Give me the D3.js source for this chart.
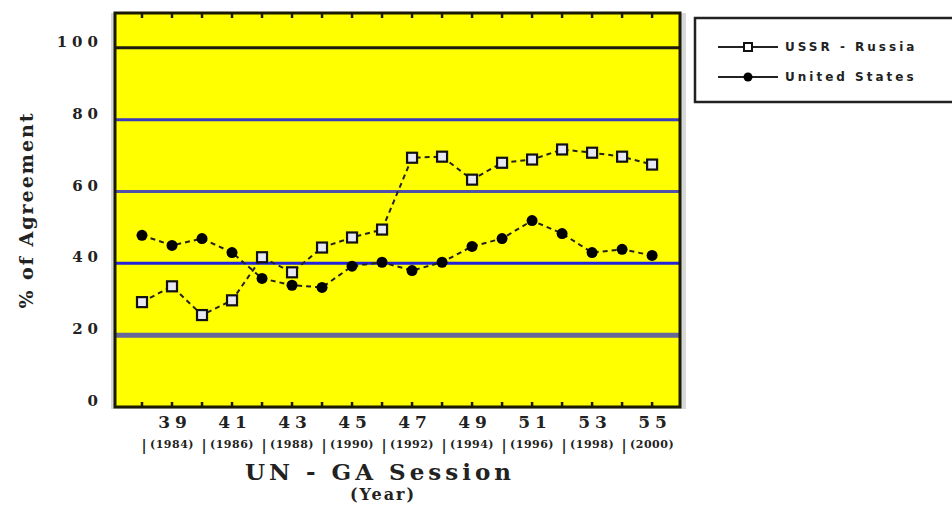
<!DOCTYPE html>
<html>
<head>
<meta charset="utf-8">
<script src="https://cdn.jsdelivr.net/npm/d3@7"></script>
<style>
  body { margin: 0; background: #fff; }
  svg text { font-family: "DejaVu Serif", serif; font-weight: bold; fill: #222; }
</style>
</head>
<body>
<div id="chart"></div>
<script>
// UN General Assembly sessions and agreement values
const sessions = [38, 39, 40, 41, 42, 43, 44, 45, 46, 47, 48, 49, 50, 51, 52, 53, 54, 55];
const ussrRussia = [29.2, 33.6, 25.6, 29.7, 41.7, 37.5, 44.4, 47.2, 49.4, 69.4, 69.7, 63.3, 68.0, 68.9, 71.7, 70.8, 69.7, 67.5];
const unitedStates = [47.8, 45.0, 46.9, 43.0, 35.8, 33.9, 33.3, 39.2, 40.3, 38.0, 40.3, 44.7, 46.9, 51.9, 48.3, 43.0, 43.9, 42.2];

const xTickSessions = [39, 41, 43, 45, 47, 49, 51, 53, 55];
const yearLabels = ["(1984)", "(1986)", "(1988)", "(1990)", "(1992)", "(1994)", "(1996)", "(1998)", "(2000)"];
const separatorSessions = [38, 40, 42, 44, 46, 48, 50, 52, 54];
const yTicks = [0, 20, 40, 60, 80, 100];
const seriesNames = ["USSR - Russia", "United States"];

const width = 952, height = 506;
const margin = {top: 13, right: 272, bottom: 99, left: 115};
const innerW = width - margin.left - margin.right;
const innerH = height - margin.top - margin.bottom;

const svg = d3.select("#chart").append("svg")
    .attr("width", width)
    .attr("height", height);

// faint shadow around the plot frame
svg.append("rect")
    .attr("x", margin.left - 4).attr("y", margin.top)
    .attr("width", innerW + 10).attr("height", innerH + 2)
    .attr("fill", "#d8d8d8");

const g = svg.append("g")
    .attr("transform", `translate(${margin.left},${margin.top})`);

const x = d3.scaleLinear().domain([37.1, 55.93]).range([0, innerW]);
const y = d3.scaleLinear().domain([0, 109.7]).range([innerH, 0]);

// yellow background
g.append("rect")
    .attr("width", innerW).attr("height", innerH)
    .attr("fill", "#ffff00");

// horizontal grid bands
const gridStyle = {
    20: {color: "#666699", w: 5},
    40: {color: "#2222dd", w: 3},
    60: {color: "#5050aa", w: 3},
    80: {color: "#3a3ac0", w: 3},
    100: {color: "#1a1a10", w: 3}
};
g.selectAll(".grid")
    .data(yTicks.filter(d => d > 0))
    .join("line")
    .attr("class", "grid")
    .attr("x1", 0).attr("x2", innerW)
    .attr("y1", d => y(d)).attr("y2", d => y(d))
    .attr("stroke", d => gridStyle[d].color)
    .attr("stroke-width", d => gridStyle[d].w);

// inward ticks at top and bottom
g.selectAll(".tick-b")
    .data(sessions)
    .join("line")
    .attr("x1", d => x(d)).attr("x2", d => x(d))
    .attr("y1", innerH).attr("y2", innerH - 5)
    .attr("stroke", "#1a1a00").attr("stroke-width", 2.5);
g.selectAll(".tick-t")
    .data(sessions)
    .join("line")
    .attr("x1", d => x(d)).attr("x2", d => x(d))
    .attr("y1", 0).attr("y2", 5)
    .attr("stroke", "#1a1a00").attr("stroke-width", 2.5);

// frame
g.append("rect")
    .attr("width", innerW).attr("height", innerH)
    .attr("fill", "none")
    .attr("stroke", "#1a1a00")
    .attr("stroke-width", 3);

// series
const ussrData = sessions.map((s, i) => ({s: s, v: ussrRussia[i]}));
const usData = sessions.map((s, i) => ({s: s, v: unitedStates[i]}));

const line = d3.line()
    .x(d => x(d.s))
    .y(d => y(d.v));

[ussrData, usData].forEach(data => {
    g.append("path")
        .datum(data)
        .attr("fill", "none")
        .attr("stroke", "#222")
        .attr("stroke-width", 2)
        .attr("stroke-dasharray", "5,4")
        .attr("d", line);
});

g.selectAll(".sq")
    .data(ussrData)
    .join("rect")
    .attr("class", "sq")
    .attr("x", d => x(d.s) - 5)
    .attr("y", d => y(d.v) - 5)
    .attr("width", 10).attr("height", 10)
    .attr("fill", "#e8e8f4")
    .attr("stroke", "#111")
    .attr("stroke-width", 2.2);

g.selectAll(".dot")
    .data(usData)
    .join("circle")
    .attr("class", "dot")
    .attr("cx", d => x(d.s))
    .attr("cy", d => y(d.v))
    .attr("r", 5.5)
    .attr("fill", "#000");

// y tick labels
g.selectAll(".ylab")
    .data(yTicks)
    .join("text")
    .attr("x", -12)
    .attr("y", d => y(d) - 1)
    .attr("text-anchor", "end")
    .style("font-size", "15px")
    .style("letter-spacing", "5px")
    .text(d => d);

// x tick labels
g.selectAll(".xlab")
    .data(xTickSessions)
    .join("text")
    .attr("x", d => x(d) + 3)
    .attr("y", innerH + 21)
    .attr("text-anchor", "middle")
    .style("font-size", "17px")
    .style("letter-spacing", "5px")
    .text(d => d);

// year labels with separators
g.selectAll(".yearlab")
    .data(xTickSessions)
    .join("text")
    .attr("x", d => x(d))
    .attr("y", innerH + 41)
    .attr("text-anchor", "middle")
    .style("font-size", "11px")
    .style("letter-spacing", "0.5px")
    .text((d, i) => yearLabels[i]);
g.selectAll(".sep")
    .data(separatorSessions)
    .join("text")
    .attr("x", d => x(d) + 2)
    .attr("y", innerH + 43)
    .attr("text-anchor", "middle")
    .style("font-size", "14px")
    .text("|");

// axis titles
svg.append("text")
    .attr("x", 380).attr("y", 480)
    .attr("text-anchor", "middle")
    .style("font-size", "23px")
    .style("letter-spacing", "4px")
    .text("UN - GA Session");
svg.append("text")
    .attr("x", 383).attr("y", 500)
    .attr("text-anchor", "middle")
    .style("font-size", "16px")
    .style("letter-spacing", "2px")
    .text("(Year)");
svg.append("text")
    .attr("transform", "translate(33,210) rotate(-90)")
    .attr("text-anchor", "middle")
    .style("font-size", "19px")
    .style("letter-spacing", "2px")
    .text("% of Agreement");

// legend
const legend = svg.append("g");
legend.append("rect")
    .attr("x", 695).attr("y", 18)
    .attr("width", 262).attr("height", 84)
    .attr("fill", "#fff")
    .attr("stroke", "#222")
    .attr("stroke-width", 2.5);

const legY = [47, 77];
seriesNames.forEach((name, i) => {
    const ly = legY[i];
    legend.append("line")
        .attr("x1", 718).attr("x2", 778)
        .attr("y1", ly).attr("y2", ly)
        .attr("stroke", "#222").attr("stroke-width", 2);
    if (i === 0) {
        legend.append("rect")
            .attr("x", 744).attr("y", ly - 4)
            .attr("width", 8).attr("height", 8)
            .attr("fill", "#fff")
            .attr("stroke", "#111").attr("stroke-width", 2);
    } else {
        legend.append("circle")
            .attr("cx", 748).attr("cy", ly)
            .attr("r", 4.5).attr("fill", "#000");
    }
    legend.append("text")
        .attr("x", 785).attr("y", ly + 4)
        .style("font-size", "12px")
        .style("font-family", "'DejaVu Sans', sans-serif")
        .style("letter-spacing", "3px")
        .text(name);
});
</script>
</body>
</html>
